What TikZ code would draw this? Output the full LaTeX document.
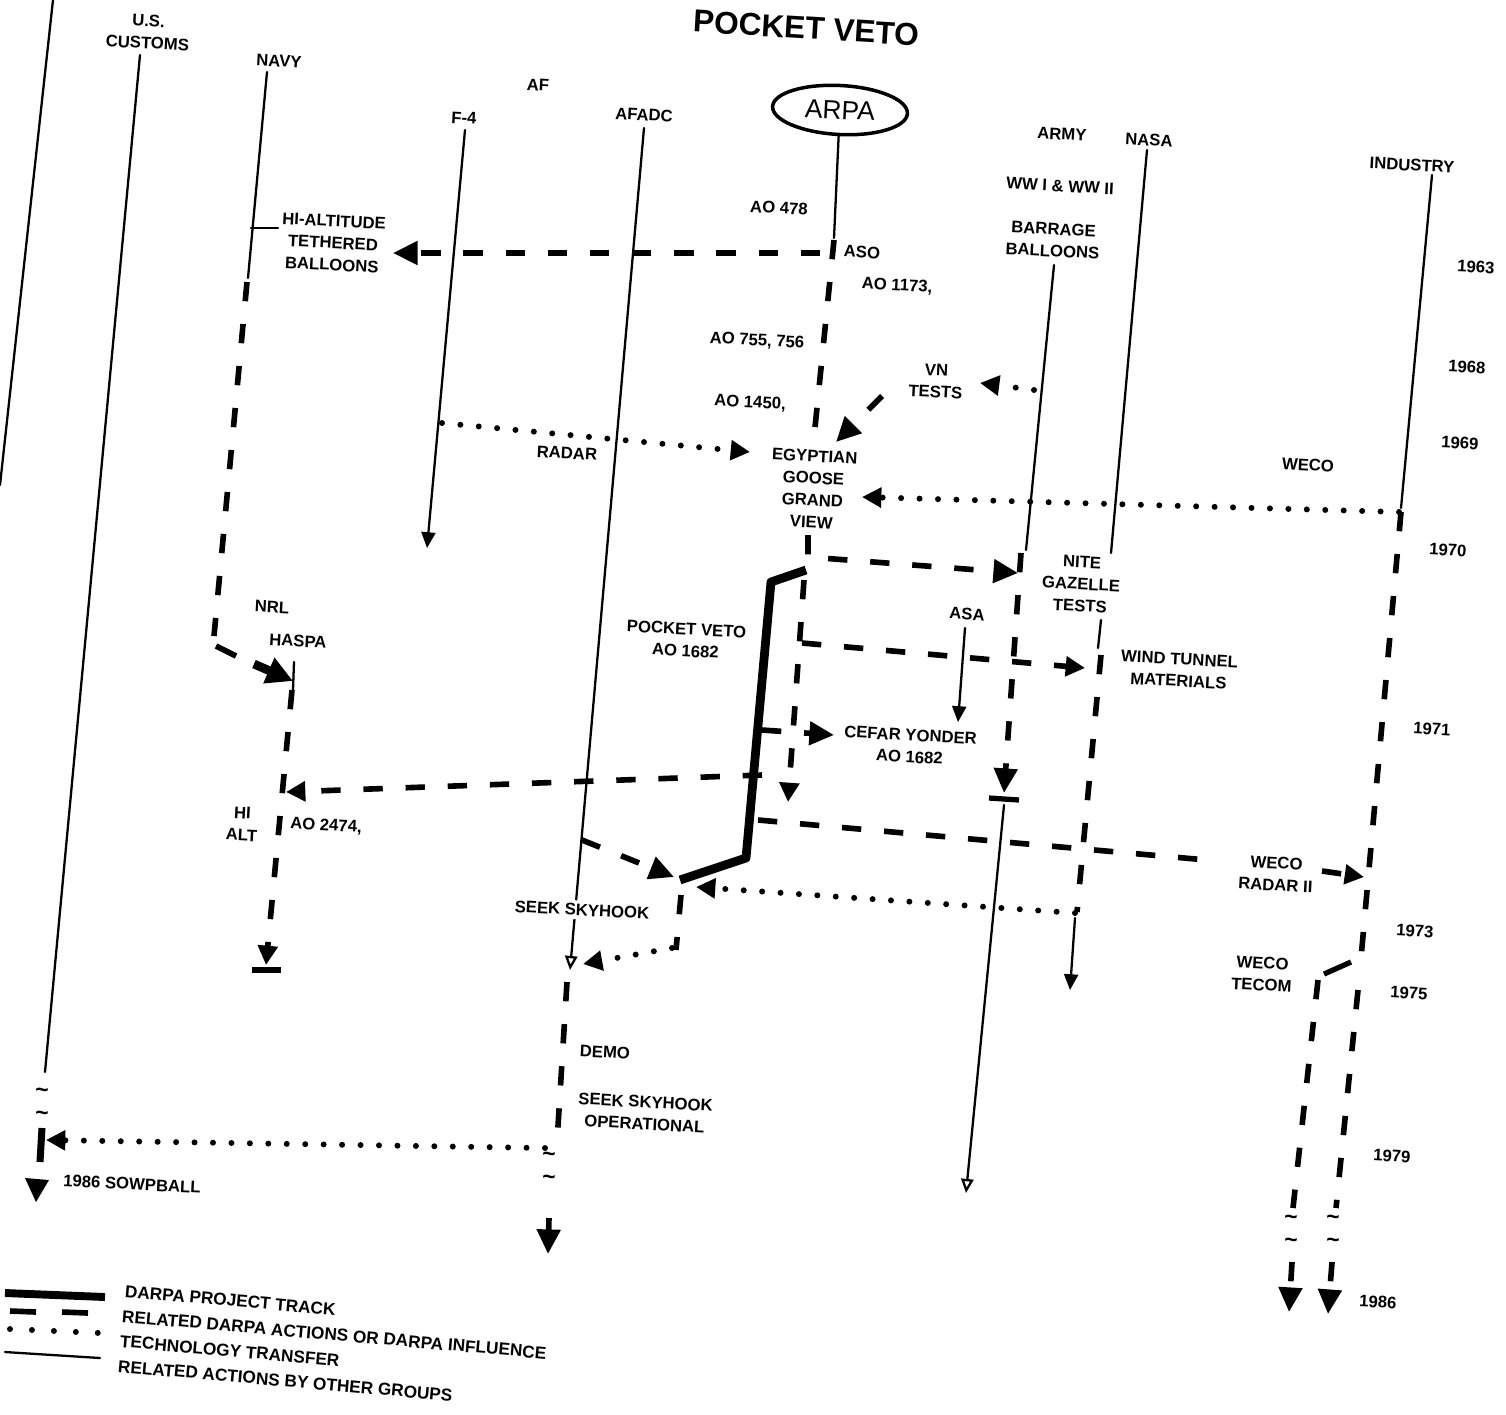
\documentclass[tikz,border=0pt]{standalone}
\usepackage{fontspec}
\setmainfont{Liberation Sans}
\usetikzlibrary{arrows.meta,shapes.geometric}
\begin{document}
\begin{tikzpicture}[x=0.02cm,y=-0.02cm,
  thinline/.style={line width=1.3pt,line cap=round},
  rel/.style={line width=3.2pt,dash pattern=on 11pt off 13pt},
  track/.style={line width=5pt,line join=round},
  xfer/.style={line width=3.4pt,line cap=round,dash pattern=on 0pt off 10.5pt},
  lbl/.style={font=\fontsize{9.5}{12.5}\selectfont\bfseries,align=center,inner sep=1pt,rotate=-3},
  leg/.style={font=\fontsize{9.8}{12}\selectfont\bfseries,anchor=west,inner sep=0.5pt,rotate=-5},
  bighead/.style={-{Triangle[length=14pt,width=13pt]}},
  midhead/.style={-{Triangle[length=11pt,width=11pt]}},
  smallhead/.style={-{Triangle[length=9pt,width=8pt]}},
  openhead/.style={-{Triangle[open,length=8pt,width=7pt]}}]
\useasboundingbox (0,0) rectangle (1506,1414);
% ---------- coordinates ----------
\coordinate (l0a) at (53,0);      \coordinate (l0b) at (0,485);
\coordinate (cua) at (140,55);    \coordinate (cub) at (45,1072);
\coordinate (nva) at (267,72);    \coordinate (nvb) at (248,278);
\coordinate (nvc) at (251,228);   \coordinate (nvd) at (278,228);
\coordinate (f4a) at (465,130);   \coordinate (f4b) at (427,548);
\coordinate (afa) at (644,128);   \coordinate (afb) at (570,970);
\coordinate (arb) at (834,238);
\coordinate (ama) at (1054,265);  \coordinate (amb) at (1026,550);
\coordinate (naa) at (1147,150);  \coordinate (nab) at (1111,553);
\coordinate (nac) at (1101,620);  \coordinate (nad) at (1098,648);
\coordinate (ina) at (1432,175);  \coordinate (inb) at (1401,508);
\coordinate (asa1) at (965,628);  \coordinate (asa2) at (958,722);
\coordinate (aml1) at (1004,805); \coordinate (aml2) at (966,1193);
\coordinate (nal1) at (1075,918); \coordinate (nal2) at (1070,990);
% dashed
\coordinate (aso1) at (820,253);  \coordinate (aso2) at (393,253);
\coordinate (ard1) at (834,240);  \coordinate (ard2) at (813,447);
\coordinate (vn1) at (882,396);   \coordinate (vn2) at (836,442);
\coordinate (eg1) at (808,535);   \coordinate (eg2) at (808,557);  \coordinate (eg3) at (1018,573);
\coordinate (ed1) at (804,580);   \coordinate (ed2) at (788,802);
\coordinate (wi1) at (802,643);   \coordinate (wi2) at (1085,668);
\coordinate (ce1) at (762,730);   \coordinate (ce2) at (834,735);
\coordinate (am1) at (1021,553);  \coordinate (am2) at (1004,793);
\coordinate (amb1) at (989,798);  \coordinate (amb2) at (1019,800);
\coordinate (nw1) at (1101,655);  \coordinate (nw2) at (1077,912);
\coordinate (rr1) at (758,820);   \coordinate (rr2) at (1218,861);
\coordinate (rr3) at (1322,871);  \coordinate (rr4) at (1364,877);
\coordinate (ho1) at (762,775);   \coordinate (ho2) at (286,792);
\coordinate (nd1) at (247,282);   \coordinate (nd2) at (214,636);
\coordinate (nd3) at (216,646);   \coordinate (nd4) at (236,656);
\coordinate (hp1) at (254,664);   \coordinate (hp2) at (293,681);
\coordinate (hp3) at (294,662);   \coordinate (hp4) at (293,690);
\coordinate (ha1) at (292,690);   \coordinate (ha2) at (266,965);
\coordinate (hab1) at (252,970); \coordinate (hab2) at (281,970);
\coordinate (sk1) at (582,840);   \coordinate (sk2) at (674,877);
\coordinate (sd1) at (681,895);   \coordinate (sd2) at (676,950);
\coordinate (al1) at (567,982);   \coordinate (al2) at (557,1142);
\coordinate (al3) at (549,1218);  \coordinate (al4) at (548,1254);
\coordinate (id1) at (1401,512);  \coordinate (id2) at (1361,958);
\coordinate (id3) at (1351,962);  \coordinate (id4) at (1324,974);
\coordinate (il1) at (1318,980);  \coordinate (il2) at (1293,1208);
\coordinate (il3) at (1292,1262); \coordinate (il4) at (1289,1312);
\coordinate (ir1) at (1358,990);  \coordinate (ir2) at (1336,1208);
\coordinate (ir3) at (1332,1262); \coordinate (ir4) at (1328,1314);
% track
\coordinate (tr1) at (806,570); \coordinate (tr2) at (771,582);
\coordinate (tr3) at (746,858); \coordinate (tr4) at (680,880);
% dotted
\coordinate (ra1) at (442,423);  \coordinate (ra2) at (750,452);
\coordinate (vt1) at (1034,390); \coordinate (vt2) at (980,383);
\coordinate (we1) at (1399,512); \coordinate (we2) at (862,497);
\coordinate (sr1) at (1075,913); \coordinate (sr2) at (696,887);
\coordinate (sl1) at (672,948);  \coordinate (sl2) at (583,964);
\coordinate (bo1) at (545,1148); \coordinate (bo2) at (46,1140);
\coordinate (bb1) at (42,1128);  \coordinate (bb2) at (40,1162);
% ---------- labels ----------
\node[font=\fontsize{18}{20}\selectfont\bfseries,rotate=-3.5] (title) at (806,28) {POCKET VETO};
\node[lbl] (us) at (148,32) {U.S.\\CUSTOMS};
\node[lbl] (navy) at (279,61) {NAVY};
\node[lbl] (af) at (538,85) {AF};
\node[lbl] (f4) at (464,118) {F-4};
\node[lbl] (afadc) at (644,115) {AFADC};
\node[draw,ellipse,line width=2pt,minimum width=2.7cm,minimum height=0.98cm,inner sep=0pt,
      font=\fontsize{15}{17}\selectfont,rotate=-3] (arpa) at (840,110) {ARPA};
\node[lbl] (army) at (1062,134) {ARMY};
\node[lbl] (nasa) at (1149,140) {NASA};
\node[lbl] (ww) at (1060,186) {WW I \& WW II};
\node[lbl] (barrage) at (1053,240) {BARRAGE\\BALLOONS};
\node[lbl] (industry) at (1412,165) {INDUSTRY};
\node[lbl] (y63) at (1476,267) {1963};
\node[lbl] (y68) at (1467,367) {1968};
\node[lbl] (y69) at (1460,443) {1969};
\node[lbl] (y70) at (1448,550) {1970};
\node[lbl] (y71) at (1432,729) {1971};
\node[lbl] (y73) at (1415,931) {1973};
\node[lbl] (y75) at (1409,993) {1975};
\node[lbl] (y79) at (1392,1156) {1979};
\node[lbl] (y86) at (1378,1302) {1986};
\node[lbl] (ao478) at (779,208) {AO 478};
\node[lbl] (aso) at (862,252) {ASO};
\node[lbl] (ao1173) at (897,286) {AO 1173,};
\node[lbl] (ao755) at (757,341) {AO 755, 756};
\node[lbl] (ao1450) at (750,403) {AO 1450,};
\node[lbl] (vn) at (936,381) {VN\\TESTS};
\node[lbl] (radar) at (567,453) {RADAR};
\node[lbl] (egypt) at (813,489) {EGYPTIAN\\GOOSE\\GRAND\\VIEW};
\node[lbl] (weco1) at (1308,465) {WECO};
\node[lbl] (hialt) at (333,243) {HI-ALTITUDE\\TETHERED\\BALLOONS};
\node[lbl] (nrl) at (272,607) {NRL};
\node[lbl] (haspa) at (298,641) {HASPA};
\node[lbl] (pv) at (686,640) {POCKET VETO\\AO 1682};
\node[lbl] (asa) at (967,614) {ASA};
\node[lbl] (nite) at (1081,584) {NITE\\GAZELLE\\TESTS};
\node[lbl] (wind) at (1179,670) {WIND TUNNEL\\MATERIALS};
\node[lbl] (cefar) at (910,746) {CEFAR YONDER\\AO 1682};
\node[lbl] (hi) at (242,824) {HI\\ALT};
\node[lbl] (ao2474) at (326,826) {AO 2474,};
\node[lbl] (wecor) at (1276,874) {WECO\\RADAR II};
\node[lbl] (wecot) at (1262,974) {WECO\\TECOM};
\node[lbl] (demo) at (605,1052) {DEMO};
\node[lbl] (seekop) at (645,1113) {SEEK SKYHOOK\\OPERATIONAL};
\node[lbl] (snow) at (132,1184) {1986 SOWPBALL};
% tildes
\foreach \n/\x/\y in {t1/42/1093,t2/42/1116,t3/549/1157,t4/549/1180,t5/1291/1220,t6/1291/1243,t7/1333/1220,t8/1333/1243}
  \node[font=\fontsize{13}{13}\selectfont\bfseries,inner sep=0pt] (\n) at (\x,\y) {\textasciitilde};
% ---------- thin lines (other groups) ----------
\draw[thinline] (l0a) -- (l0b);
\draw[thinline] (cua) -- (cub);
\draw[thinline] (nva) -- (nvb);
\draw[thinline] (nvc) -- (nvd);
\draw[thinline,smallhead] (f4a) -- (f4b);
\draw[thinline,openhead] (afa) -- (afb);
\draw[thinline] (arpa.south) -- (arb);
\draw[thinline] (ama) -- (amb);
\draw[thinline] (naa) -- (nab);
\draw[thinline] (nac) -- (nad);
\draw[thinline] (ina) -- (inb);
\draw[thinline,smallhead] (asa1) -- (asa2);
\draw[thinline,openhead] (aml1) -- (aml2);
\draw[thinline,smallhead] (nal1) -- (nal2);
% ---------- dashed (related DARPA actions) ----------
\draw[rel,bighead] (aso1) -- (aso2);
\draw[rel] (ard1) -- (ard2);
\draw[rel,bighead] (vn1) -- (vn2);
\draw[rel,bighead] (eg1) -- (eg2) -- (eg3);
\draw[rel,midhead] (ed1) -- (ed2);
\draw[rel,midhead] (wi1) -- (wi2);
\draw[rel,bighead] (ce1) -- (ce2);
\draw[rel,bighead] (am1) -- (am2);
\draw[line width=3pt] (amb1) -- (amb2);
\draw[rel] (nw1) -- (nw2);
\draw[rel] (rr1) -- (rr2);
\draw[rel,midhead] (rr3) -- (rr4);
\draw[rel,midhead] (ho1) -- (ho2);
\draw[rel] (nd1) -- (nd2);
\draw[line width=3.2pt] (nd3) -- (nd4);
\draw[line width=5pt,-{Triangle[length=15pt,width=15pt]}] (hp1) -- (hp2);
\draw[thinline] (hp3) -- (hp4);
\draw[rel,midhead] (ha1) -- (ha2);
\draw[line width=3pt] (hab1) -- (hab2);
\draw[rel,bighead] (sk1) -- (sk2);
\draw[rel] (sd1) -- (sd2);
\draw[rel] (al1) -- (al2);
\draw[rel,bighead] (al3) -- (al4);
\draw[rel] (id1) -- (id2);
\draw[line width=3pt] (id3) -- (id4);
\draw[rel] (il1) -- (il2);
\draw[rel,bighead] (il3) -- (il4);
\draw[rel] (ir1) -- (ir2);
\draw[rel,bighead] (ir3) -- (ir4);
% ---------- DARPA project track ----------
\draw[track] (tr1) -- (tr2) -- (tr3) -- (tr4);
% ---------- technology transfer (dotted) ----------
\draw[xfer,midhead] (ra1) -- (ra2);
\draw[xfer,midhead] (vt1) -- (vt2);
\draw[xfer,midhead] (we1) -- (we2);
\draw[xfer,midhead] (sr1) -- (sr2);
\draw[xfer,midhead] (sl1) -- (sl2);
\draw[xfer,midhead] (bo1) -- (bo2);
\draw[line width=4pt] (bb1) -- (bb2);
\fill (25,1178) -- (49,1180) -- (36,1202) -- cycle;
% label that interrupts the AFADC line
\node[lbl,fill=white,inner sep=2pt] (seek) at (582,910) {SEEK SKYHOOK};
% ---------- legend ----------
\coordinate (lg1a) at (5,1293);  \coordinate (lg1b) at (105,1297);
\coordinate (lg2a) at (10,1311); \coordinate (lg2b) at (36,1312);
\coordinate (lg2c) at (62,1312); \coordinate (lg2d) at (88,1313);
\coordinate (lg3a) at (10,1329); \coordinate (lg3b) at (100,1333);
\coordinate (lg4a) at (5,1352);  \coordinate (lg4b) at (100,1358);
\draw[line width=4.5pt] (lg1a) -- (lg1b);
\draw[line width=3.2pt] (lg2a) -- (lg2b);
\draw[line width=3.2pt] (lg2c) -- (lg2d);
\draw[line width=3.4pt,line cap=round,dash pattern=on 0pt off 12.5pt] (lg3a) -- (lg3b);
\draw[thinline] (lg4a) -- (lg4b);
\node[leg] (leg1) at (124,1291) {DARPA PROJECT TRACK};
\node[leg] (leg2) at (121,1316) {RELATED DARPA ACTIONS OR DARPA INFLUENCE};
\node[leg] (leg3) at (119,1341) {TECHNOLOGY TRANSFER};
\node[leg] (leg4) at (117,1366) {RELATED ACTIONS BY OTHER GROUPS};
\end{tikzpicture}
\end{document}
